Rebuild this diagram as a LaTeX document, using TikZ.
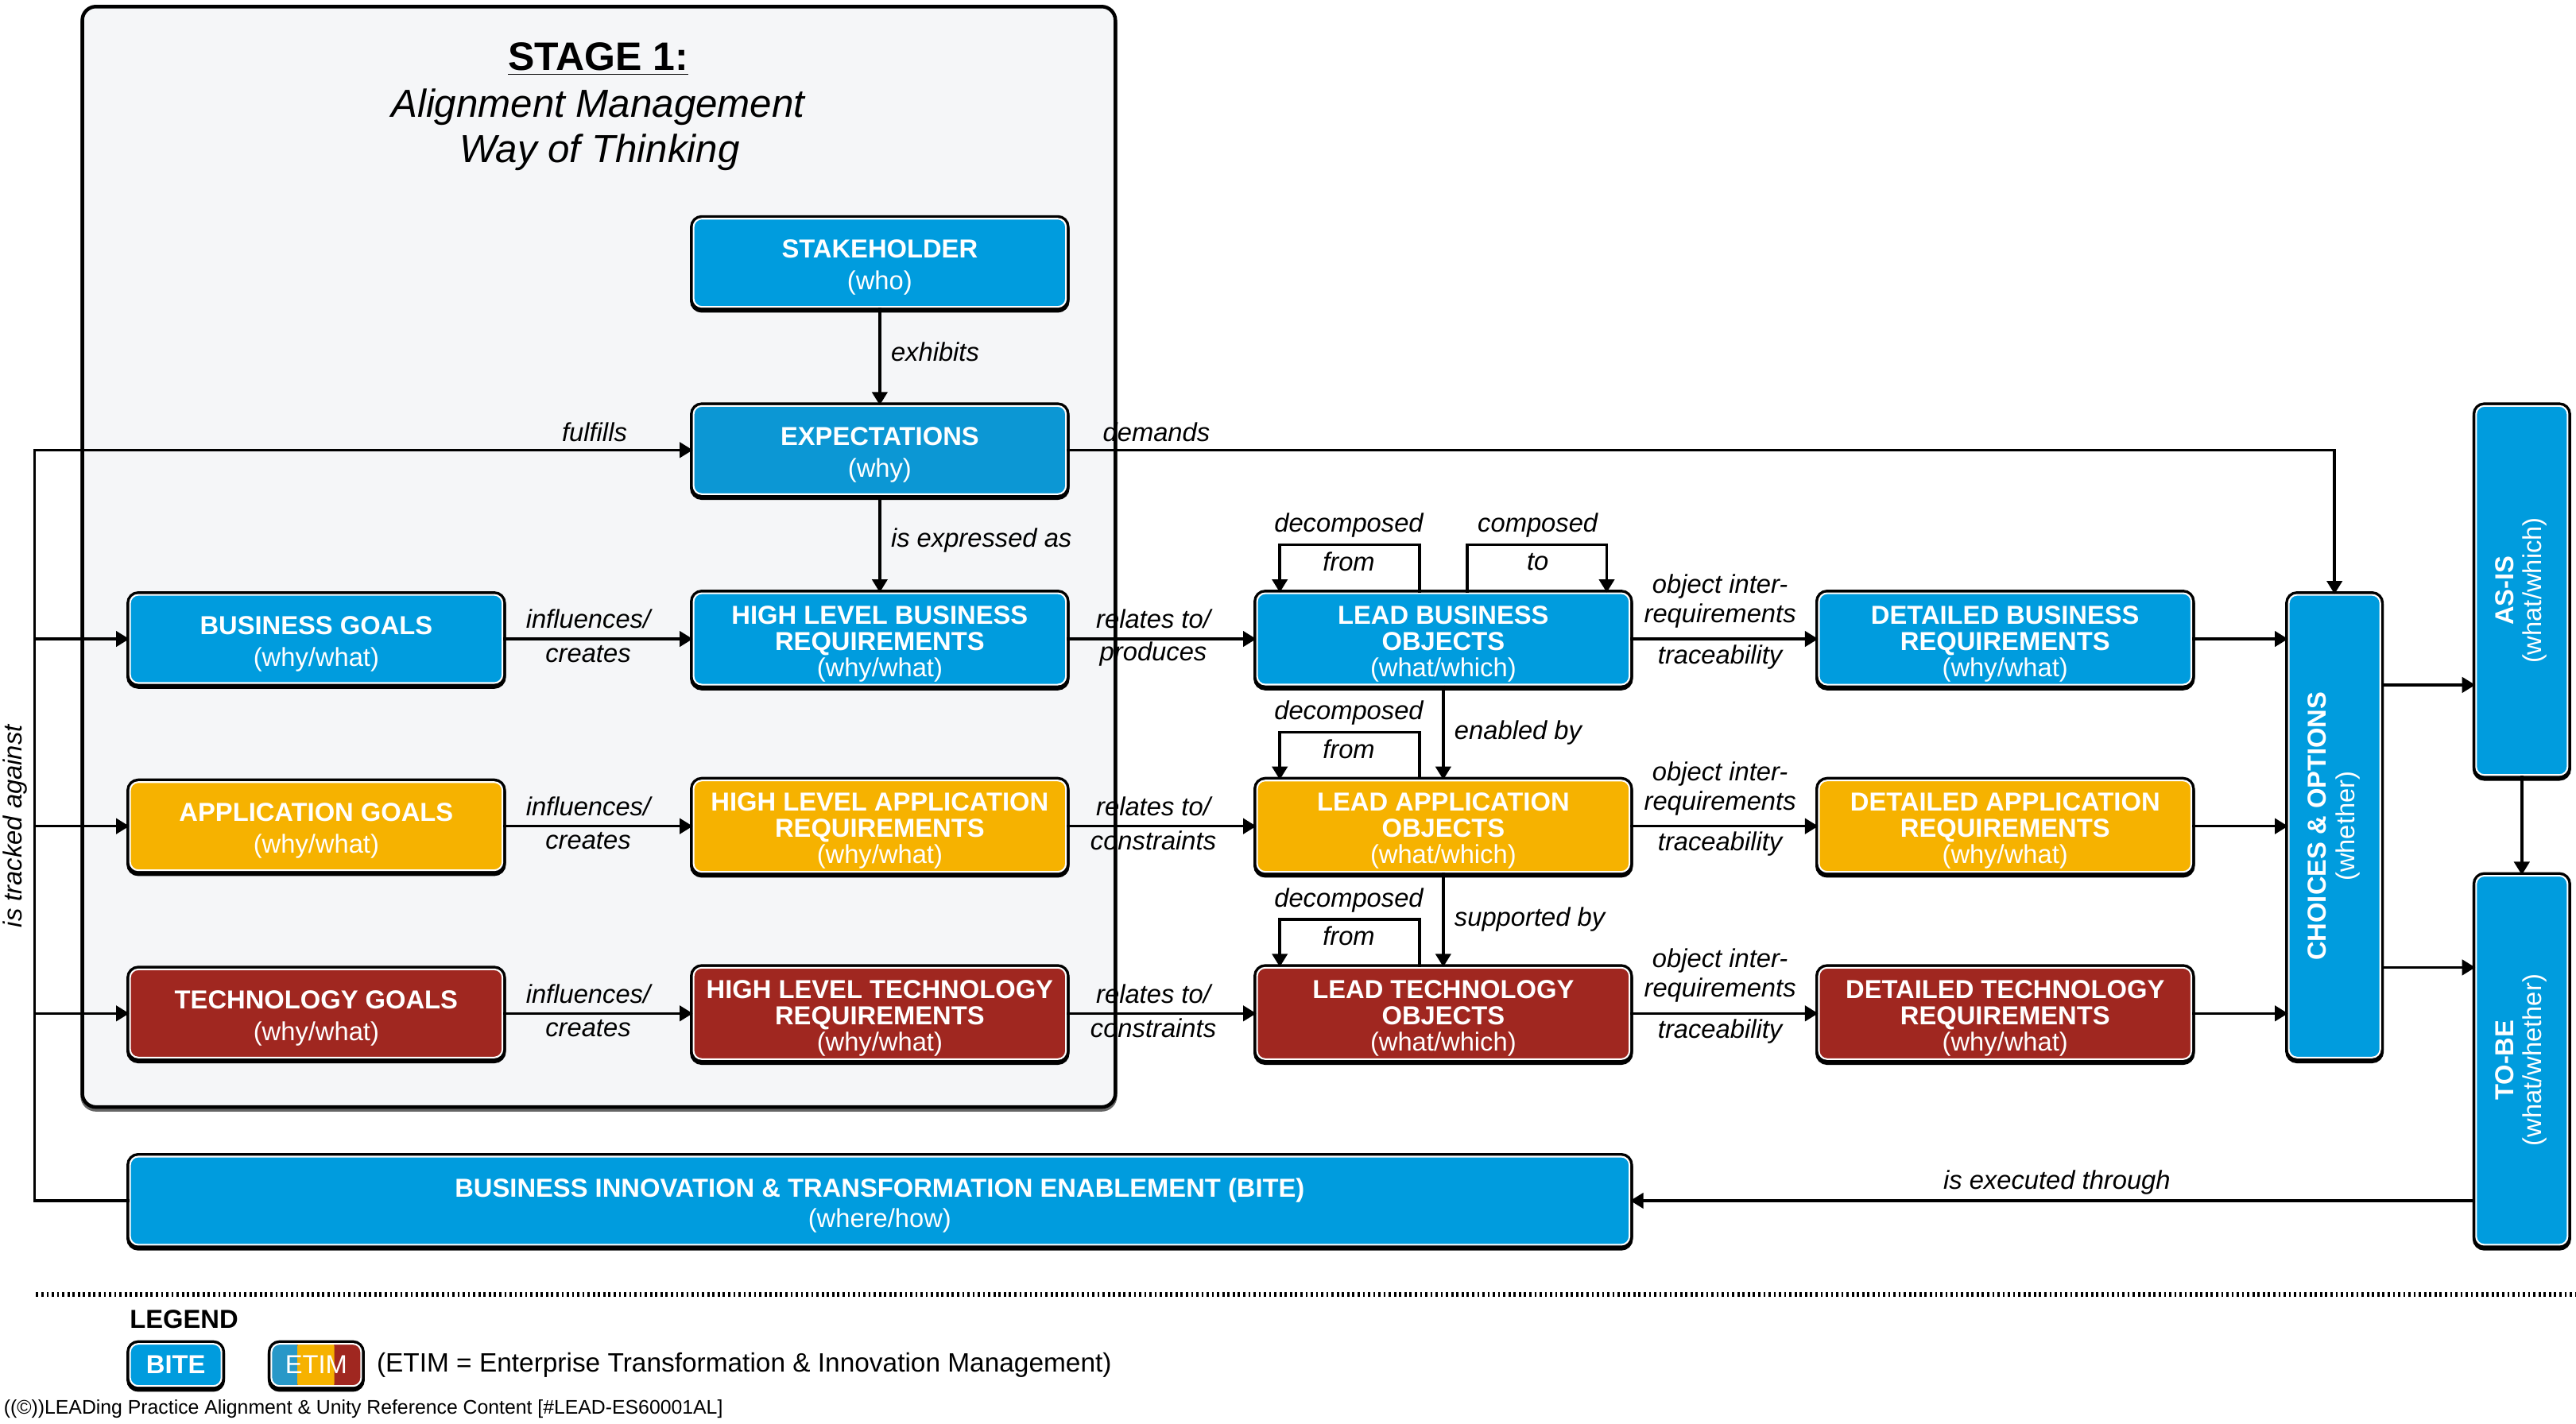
\documentclass[tikz,border=0pt]{standalone}
\usepackage{fontspec}
\usepackage{graphicx}
\setmainfont{Liberation Sans}
\usetikzlibrary{arrows.meta,calc}
\definecolor{bblue}{RGB}{0,156,222}
\definecolor{eblue}{RGB}{12,151,212}
\definecolor{byellow}{RGB}{246,178,0}
\definecolor{bred}{RGB}{160,39,32}
\definecolor{stagefill}{RGB}{245,246,248}
\definecolor{etimblue}{RGB}{40,152,200}
\newcommand{\toprl}{\rule{0pt}{10.2pt}}
\tikzset{
  box/.style={rectangle, rounded corners=3pt, draw=white, line width=0.6pt,
    preaction={draw=black, line width=2.6pt, transform canvas={yshift=-0.8pt}},
    preaction={draw=black, line width=2.6pt},
    text=white, align=center, inner sep=1pt,
    minimum width=136pt, minimum height=32.2pt,
    font=\fontsize{9.5}{9.6}\selectfont},
  bluebox/.style={box, fill=bblue},
  yelbox/.style={box, fill=byellow},
  redbox/.style={box, fill=bred},
  vbox/.style={box, fill=bblue, minimum width=33.4pt},
  lbl/.style={font=\fontsize{9.5}{10}\selectfont\itshape, inner sep=0pt},
  arr/.style={line width=1pt, -{Triangle[length=4.8pt,width=5.6pt]}},
  stagebox/.style={rectangle, draw=black, line width=1.3pt, fill=stagefill,
    rounded corners=5pt, inner sep=0pt, minimum width=377.3pt, minimum height=402pt,
    preaction={draw=black!60, line width=1.3pt, transform canvas={yshift=-1pt}}},
}
\begin{document}
\begin{tikzpicture}[x=0.6pt,y=-0.6pt]
\useasboundingbox (0,0) rectangle (1568,866.5);
\fill[white] (0,0) rectangle (1568,866.5);

% stage
\node[stagebox] (stage) at (364.5,339) {};
\node[font=\fontsize{14.5}{15}\selectfont\bfseries] (st1) at (364,36) {\underline{STAGE 1:}};
\node[font=\fontsize{14.3}{15}\selectfont\itshape] (st2) at (364,65) {Alignment Management};
\node[font=\fontsize{14.3}{15}\selectfont\itshape] (st3) at (365,93) {Way of Thinking};

% nodes
\node[bluebox] (sh) at (535.5,160) {\toprl\textbf{STAKEHOLDER}\\[2pt](who)};
\node[box, fill=eblue] (exp) at (535.5,274) {\toprl\textbf{EXPECTATIONS}\\[2pt](why)};

\node[bluebox] (bg) at (192.5,389) {\toprl\textbf{BUSINESS GOALS}\\[2pt](why/what)};
\node[yelbox] (ag) at (192.5,503) {\toprl\textbf{APPLICATION GOALS}\\[2pt](why/what)};
\node[redbox] (tg) at (192.5,617) {\toprl\textbf{TECHNOLOGY GOALS}\\[2pt](why/what)};

\node[bluebox] (hlbr) at (535.5,389) {\toprl\textbf{HIGH LEVEL BUSINESS}\\\textbf{REQUIREMENTS}\\(why/what)};
\node[yelbox] (hlar) at (535.5,503) {\toprl\textbf{HIGH LEVEL APPLICATION}\\\textbf{REQUIREMENTS}\\(why/what)};
\node[redbox] (hltr) at (535.5,617) {\toprl\textbf{HIGH LEVEL TECHNOLOGY}\\\textbf{REQUIREMENTS}\\(why/what)};

\node[bluebox] (lbo) at (878.5,389) {\toprl\textbf{LEAD BUSINESS}\\\textbf{OBJECTS}\\(what/which)};
\node[yelbox] (lao) at (878.5,503) {\toprl\textbf{LEAD APPLICATION}\\\textbf{OBJECTS}\\(what/which)};
\node[redbox] (lto) at (878.5,617) {\toprl\textbf{LEAD TECHNOLOGY}\\\textbf{OBJECTS}\\(what/which)};

\node[bluebox] (dbr) at (1220.5,389) {\toprl\textbf{DETAILED BUSINESS}\\\textbf{REQUIREMENTS}\\(why/what)};
\node[yelbox] (dar) at (1220.5,503) {\toprl\textbf{DETAILED APPLICATION}\\\textbf{REQUIREMENTS}\\(why/what)};
\node[redbox] (dtr) at (1220.5,617) {\toprl\textbf{DETAILED TECHNOLOGY}\\\textbf{REQUIREMENTS}\\(why/what)};

\node[vbox, minimum height=169pt] (cho) at (1421,503)
  {\rotatebox{90}{\renewcommand{\arraystretch}{1.1}\begin{tabular}{@{}c@{}}\textbf{CHOICES \& OPTIONS}\\(whether)\end{tabular}}};
\node[vbox, minimum height=134.8pt] (asis) at (1535,359.5)
  {\rotatebox{90}{\renewcommand{\arraystretch}{1.05}\begin{tabular}{@{}c@{}}\textbf{AS-IS}\\(what/which)\end{tabular}}};
\node[vbox, minimum height=134.8pt] (tobe) at (1535,645.5)
  {\rotatebox{90}{\renewcommand{\arraystretch}{1.05}\begin{tabular}{@{}c@{}}\textbf{TO-BE}\\(what/whether)\end{tabular}}};

\node[bluebox, minimum width=547.6pt] (bite) at (535.5,731)
  {\toprl\textbf{BUSINESS INNOVATION \& TRANSFORMATION ENABLEMENT (BITE)}\\[1.5pt](where/how)};

% connectors
\draw[arr] (sh) -- (exp);
\node[lbl, anchor=west] (lexh) at (542,214) {exhibits};
\draw[arr] (exp) -- (hlbr);
\node[lbl, anchor=west] (lexp) at (542,329) {is expressed as};

\coordinate (trk) at (21,274);
\draw[arr] (bite.west) -| (trk) -- (exp.west);
\node[lbl, anchor=east] (lful) at (382,263) {fulfills};
\node[lbl, rotate=90] (ltrk) at (9,503) {is tracked against};
\draw[arr] (trk |- bg) -- (bg.west);
\draw[arr] (trk |- ag) -- (ag.west);
\draw[arr] (trk |- tg) -- (tg.west);

\draw[arr] (exp.east) -| (cho.north);
\node[lbl, anchor=west] (ldem) at (671,263) {demands};

% row 1
\draw[arr] (bg) -- (hlbr);
\node[lbl] (li1) at (358,377) {influences/};
\node[lbl] (lc1) at (358,398) {creates};
\draw[arr] (hlbr) -- (lbo);
\node[lbl] (lr1) at (702,377) {relates to/};
\node[lbl] (lp1) at (702,398) {produces};
\draw[arr] (lbo) -- (dbr);
\node[lbl] (lo1) at (1047,357) {object inter-};
\node[lbl] (lq1) at (1047,375) {requirements};
\node[lbl] (lt1) at (1047,400) {traceability};
\draw[arr] (dbr.east) -- (dbr.east -| cho.west);

% row 2
\draw[arr] (ag) -- (hlar);
\node[lbl] (li2) at (358,491) {influences/};
\node[lbl] (lc2) at (358,512) {creates};
\draw[arr] (hlar) -- (lao);
\node[lbl] (lr2) at (702,491) {relates to/};
\node[lbl] (lp2) at (702,512) {constraints};
\draw[arr] (lao) -- (dar);
\node[lbl] (lo2) at (1047,471) {object inter-};
\node[lbl] (lq2) at (1047,489) {requirements};
\node[lbl] (lt2) at (1047,514) {traceability};
\draw[arr] (dar.east) -- (dar.east -| cho.west);

% row 3
\draw[arr] (tg) -- (hltr);
\node[lbl] (li3) at (358,605) {influences/};
\node[lbl] (lc3) at (358,626) {creates};
\draw[arr] (hltr) -- (lto);
\node[lbl] (lr3) at (702,605) {relates to/};
\node[lbl] (lp3) at (702,626) {constraints};
\draw[arr] (lto) -- (dtr);
\node[lbl] (lo3) at (1047,585) {object inter-};
\node[lbl] (lq3) at (1047,603) {requirements};
\node[lbl] (lt3) at (1047,628) {traceability};
\draw[arr] (dtr.east) -- (dtr.east -| cho.west);

% loops and vertical links
\draw[arr] ([xshift=-8.7pt]lbo.north) -- ++(0,-29) -| ([xshift=-59.7pt]lbo.north);
\node[lbl] (ld1) at (821,320) {decomposed};
\node[lbl] (lf1) at (821,342) {from};
\draw[arr] ([xshift=8.7pt]lbo.north) -- ++(0,-29) -| ([xshift=59.7pt]lbo.north);
\node[lbl] (lcm) at (936,320) {composed};
\node[lbl] (lto1) at (936,342) {to};

\draw[arr] (lbo) -- (lao);
\node[lbl, anchor=west] (len) at (885,446) {enabled by};
\draw[arr] ([xshift=-8.7pt]lao.north) -- ++(0,-29) -| ([xshift=-59.7pt]lao.north);
\node[lbl] (ld2) at (821,434) {decomposed};
\node[lbl] (lf2) at (821,456) {from};

\draw[arr] (lao) -- (lto);
\node[lbl, anchor=west] (lsu) at (885,560) {supported by};
\draw[arr] ([xshift=-8.7pt]lto.north) -- ++(0,-29) -| ([xshift=-59.7pt]lto.north);
\node[lbl] (ld3) at (821,548) {decomposed};
\node[lbl] (lf3) at (821,570) {from};

% right side
\coordinate (ya) at (0,417);
\coordinate (yb) at (0,589);
\draw[arr] (cho.east |- ya) -- (asis.west |- ya);
\draw[arr] (cho.east |- yb) -- (tobe.west |- yb);
\draw[arr] (asis) -- (tobe);
\draw[arr] (tobe.west |- bite.east) -- (bite.east);
\node[lbl] (lexe) at (1252,720) {is executed through};

% legend
\coordinate (dl) at (22,788);
\coordinate (dr) at (1568,788);
\draw[line width=1.6pt, dash pattern=on 0.8pt off 1.1pt] (dl) -- (dr);
\node[font=\fontsize{9.5}{10}\selectfont\bfseries] (leg) at (112,803) {LEGEND};
\node[bluebox, minimum width=33.4pt, minimum height=15.4pt] (lgb) at (107,831) {\textbf{BITE}};
\node[box, minimum width=32.8pt, minimum height=15.4pt, fill=bred,
  path picture={
    \fill[etimblue] ([xshift=-2pt,yshift=-2pt]path picture bounding box.south west) rectangle ([xshift=9.5pt,yshift=2pt]path picture bounding box.north west);
    \fill[byellow] ([xshift=9.5pt,yshift=-2pt]path picture bounding box.south west) rectangle ([xshift=23pt,yshift=2pt]path picture bounding box.north west);
  }] (lge) at (192.5,831) {ETIM};
\node[font=\fontsize{9.7}{10}\selectfont, anchor=west, inner sep=0pt] (legt) at (229,831) {(ETIM = Enterprise Transformation \& Innovation Management)};
\node[font=\fontsize{7.2}{8}\selectfont, anchor=west, inner sep=0pt] (foot) at (2,858) {((©))LEADing Practice Alignment \& Unity Reference Content [\#LEAD-ES60001AL]};
\end{tikzpicture}
\end{document}
